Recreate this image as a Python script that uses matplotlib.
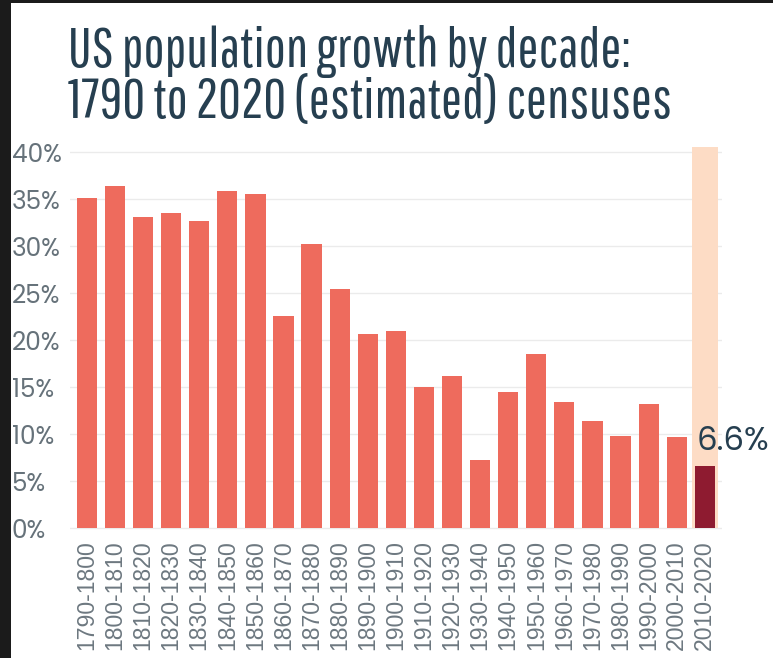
import matplotlib
matplotlib.use("Agg")
import matplotlib.pyplot as plt
from matplotlib.patches import Rectangle
from matplotlib import font_manager

# Dati: crescita della popolazione USA per decennio
decades = ["1790-1800", "1800-1810", "1810-1820", "1820-1830", "1830-1840",
           "1840-1850", "1850-1860", "1860-1870", "1870-1880", "1880-1890",
           "1890-1900", "1900-1910", "1910-1920", "1920-1930", "1930-1940",
           "1940-1950", "1950-1960", "1960-1970", "1970-1980", "1980-1990",
           "1990-2000", "2000-2010", "2010-2020"]
growth = [35.1, 36.4, 33.1, 33.5, 32.7, 35.9, 35.6, 22.6, 30.2, 25.5,
          20.7, 21.0, 15.0, 16.2, 7.3, 14.5, 18.5, 13.4, 11.4, 9.8,
          13.2, 9.7, 6.6]
highlight_bg = 40.6
yticks = [0, 5, 10, 15, 20, 25, 30, 35, 40]
title_lines = ["US population growth by decade:",
               "1790 to 2020 (estimated) censuses"]

names = {f.name for f in font_manager.fontManager.ttflist}


def pick(prefs):
    for p in prefs:
        if p in names:
            return p
    return "DejaVu Sans"


title_font = pick(["Pathway Gothic One", "Oswald", "Roboto Condensed", "Liberation Sans Narrow"])
label_font = pick(["Poppins", "DejaVu Sans"])
xtick_font = pick(["Liberation Sans", "Arimo", "DejaVu Sans"])

fig = plt.figure(figsize=(7.73, 6.58), dpi=100, facecolor="#1b1b1b")
fig.patches.append(Rectangle((11 / 773, 0), 1, 655 / 658, transform=fig.transFigure,
                             facecolor="white", edgecolor="none", zorder=-10))
renderer = fig.canvas.get_renderer()


def fit_size(text, family, width_px):
    t = fig.text(0, 0, text, family=family, fontsize=20)
    w = t.get_window_extent(renderer).width
    t.remove()
    return 20 * width_px / w


ax = fig.add_axes([0.0906, 0.19, 0.843, 0.587])
ax.set_facecolor("none")

x = list(range(len(decades)))
ax.bar(x[-1], highlight_bg, width=0.93, color="#fddcc5", zorder=1)
colors = ["#ee6b5d"] * (len(decades) - 1) + ["#8e1b30"]
ax.bar(x, growth, width=0.72, color=colors, zorder=2)

ylab_size = fit_size("40%", label_font, 50)
ax.text(x[-1] - 0.28, growth[-1] + 1.7, f"{growth[-1]}%", family=label_font,
        fontsize=fit_size("6.6%", label_font, 73),
        color="#263f50", va="baseline", ha="left", clip_on=False, zorder=3)

ax.set_xlim(-0.6, len(decades) - 0.4)
ax.set_ylim(-0.5, highlight_bg)
ax.set_yticks(yticks)
ax.set_yticklabels([f"{v}%" for v in yticks], family=label_font)
ax.set_xticks(x)
ax.set_xticklabels(decades, rotation=90, family=xtick_font,
                   fontsize=fit_size("1790-1800", xtick_font, 110), color="#6d7880")
ax.tick_params(axis="y", length=0, pad=42, labelsize=ylab_size, labelcolor="#66727a")
ax.tick_params(axis="x", length=0, pad=5)
for lab in ax.get_yticklabels():
    lab.set_horizontalalignment("left")

ax.grid(axis="y", color="#ebebeb", linewidth=1, zorder=0)
ax.set_axisbelow(True)
for s in ax.spines.values():
    s.set_visible(False)

tsize = fit_size(title_lines[0], title_font, 562)
fig.text(68 / 773, 1 - 67 / 658, title_lines[0], family=title_font, fontsize=tsize,
         color="#263f50", va="baseline", ha="left")
fig.text(68 / 773, 1 - 118 / 658, title_lines[1], family=title_font, fontsize=tsize,
         color="#263f50", va="baseline", ha="left")

fig.savefig("out.png", dpi=100, facecolor=fig.get_facecolor())
